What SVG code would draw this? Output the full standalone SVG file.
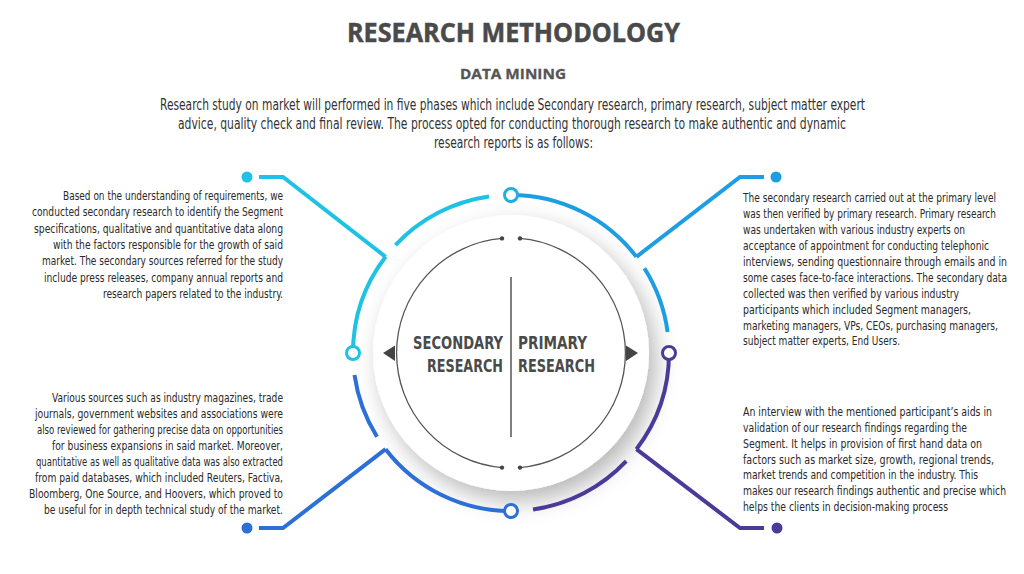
<svg xmlns="http://www.w3.org/2000/svg" width="1024" height="574" viewBox="0 0 1024 574">
<style>
.title{font-family:"Open Sans","Liberation Sans",sans-serif;font-weight:700;fill:#4a4a4a;stroke:#4a4a4a;stroke-width:0.5}
.body{font-family:"Liberation Sans Narrow","DejaVu Sans Condensed","Liberation Sans",sans-serif;fill:#2a2a2a}
.hp{font-size:16.5px;fill:#333}
.p{font-size:13px}
.ctr{font-family:"Liberation Sans Narrow","DejaVu Sans Condensed","Liberation Sans",sans-serif;font-size:18px;font-weight:700;fill:#4a4a4a}
.arc{fill:none;stroke-width:4;stroke-linecap:butt}
.con{fill:none;stroke-width:4;stroke-linejoin:miter}
.node{fill:#fff;stroke-width:3}
.cy{stroke:#1dc2e4}.bl{stroke:#1e9ee2}.rb{stroke:#2c6fd6}.pu{stroke:#4b3a98}
.thin{fill:none;stroke:#555;stroke-width:1.3}
</style>
<defs>
<filter id="sh" x="-30%" y="-30%" width="170%" height="170%">
<feDropShadow dx="7" dy="10" stdDeviation="11" flood-color="#000" flood-opacity="0.28"/>
</filter>
</defs>
<rect width="1024" height="574" fill="#fff"/>

<g id="header">
<text class="title" x="513.5" y="42" font-size="26" text-anchor="middle" textLength="333" lengthAdjust="spacingAndGlyphs">RESEARCH METHODOLOGY</text>
<text class="title" x="513" y="79" font-size="15" text-anchor="middle" style="fill:#555;stroke:#555;stroke-width:0.3" textLength="106" lengthAdjust="spacingAndGlyphs">DATA MINING</text>
<g class="body hp" text-anchor="middle">
<text x="512.5" y="110" textLength="705" lengthAdjust="spacingAndGlyphs">Research study on market will performed in five phases which include Secondary research, primary research, subject matter expert</text>
<text x="512" y="129" textLength="668" lengthAdjust="spacingAndGlyphs">advice, quality check and final review. The process opted for conducting thorough research to make authentic and dynamic</text>
<text x="513.5" y="148" textLength="159" lengthAdjust="spacingAndGlyphs">research reports is as follows:</text>
</g>
</g>

<g id="center">
<circle cx="511" cy="353" r="138" fill="#fff" filter="url(#sh)"/>
<path class="thin" d="M520,238.4 A115,115 0 0 1 520,467.6"/>
<path class="thin" d="M502,467.6 A115,115 0 0 1 502,238.4"/>
<g fill="#444">
<circle cx="520" cy="238.4" r="2.2"/><circle cx="502" cy="238.4" r="2.2"/>
<circle cx="520" cy="467.6" r="2.2"/><circle cx="502" cy="467.6" r="2.2"/>
<polygon points="383,353 395,345.5 395,361"/>
<polygon points="638,353 626,345.5 626,361"/>
</g>
<line x1="511" y1="277" x2="511" y2="437" stroke="#555" stroke-width="1.5"/>
<g class="ctr">
<text x="503" y="349" text-anchor="end" textLength="90" lengthAdjust="spacingAndGlyphs">SECONDARY</text>
<text x="503" y="372" text-anchor="end" textLength="76" lengthAdjust="spacingAndGlyphs">RESEARCH</text>
<text x="518" y="349" textLength="69" lengthAdjust="spacingAndGlyphs">PRIMARY</text>
<text x="518" y="372" textLength="77" lengthAdjust="spacingAndGlyphs">RESEARCH</text>
</g>
</g>

<g id="connectors">
<path class="arc cy" d="M353,353 A158,158 0 0 1 385.6,256.8"/>
<path class="arc cy" d="M395.4,245.2 A158,158 0 0 1 489,196.5"/>
<path class="arc bl" d="M511,195 A158,158 0 0 1 636.4,256.8"/>
<path class="arc bl" d="M644.4,268.3 A158,158 0 0 1 667.6,332.1"/>
<path class="arc pu" d="M669,353 A158,158 0 0 1 636.4,449.2"/>
<path class="arc pu" d="M626.2,461.2 A158,158 0 0 1 533,509.5"/>
<path class="arc rb" d="M511,511 A158,158 0 0 1 385.6,449.2"/>
<path class="arc rb" d="M377,436.7 A158,158 0 0 1 354.5,375"/>
<path class="con cy" d="M385.6,256.8 L283,177 L259,177"/>
<path class="con bl" d="M636.4,256.8 L740,177 L764,177"/>
<path class="con rb" d="M385.6,449.2 L283,528 L259,528"/>
<path class="con pu" d="M636.4,449.2 L740,528 L764,528"/>
</g>

<g id="node-left"><circle class="node cy" cx="353" cy="353" r="6.5"/></g>
<g id="node-top"><circle class="node" stroke="#1cb0e4" cx="511" cy="195" r="6.5"/></g>
<g id="node-right"><circle class="node pu" cx="669" cy="353" r="6.5"/></g>
<g id="node-bottom"><circle class="node rb" cx="511" cy="511" r="6.5"/></g>

<g id="dot-tl"><circle cx="247" cy="177" r="5.5" fill="#1dc2e4"/></g>
<g id="dot-tr"><circle cx="776" cy="177" r="5.5" fill="#1e9ee2"/></g>
<g id="dot-bl"><circle cx="247" cy="528" r="5.5" fill="#2c6fd6"/></g>
<g id="dot-br"><circle cx="777" cy="528" r="5.5" fill="#4b3a98"/></g>

<g id="text-tl" class="body p" text-anchor="end">
<text x="283" y="200" textLength="220" lengthAdjust="spacingAndGlyphs">Based on the understanding of requirements, we</text>
<text x="283" y="216.3" textLength="251" lengthAdjust="spacingAndGlyphs">conducted secondary research to identify the Segment</text>
<text x="283" y="232.6" textLength="249" lengthAdjust="spacingAndGlyphs">specifications, qualitative and quantitative data along</text>
<text x="283" y="248.9" textLength="230" lengthAdjust="spacingAndGlyphs">with the factors responsible for the growth of said</text>
<text x="283" y="265.2" textLength="241" lengthAdjust="spacingAndGlyphs">market. The secondary sources referred for the study</text>
<text x="283" y="281.5" textLength="239" lengthAdjust="spacingAndGlyphs">include press releases, company annual reports and</text>
<text x="283" y="297.8" textLength="180" lengthAdjust="spacingAndGlyphs">research papers related to the industry.</text>
</g>

<g id="text-bl" class="body p" text-anchor="end">
<text x="283" y="402" textLength="231" lengthAdjust="spacingAndGlyphs">Various sources such as industry magazines, trade</text>
<text x="283" y="418" textLength="248" lengthAdjust="spacingAndGlyphs">journals, government websites and associations were</text>
<text x="283" y="434" textLength="246" lengthAdjust="spacingAndGlyphs">also reviewed for gathering precise data on opportunities</text>
<text x="283" y="450" textLength="231" lengthAdjust="spacingAndGlyphs">for business expansions in said market. Moreover,</text>
<text x="283" y="466" textLength="247" lengthAdjust="spacingAndGlyphs">quantitative as well as qualitative data was also extracted</text>
<text x="283" y="482" textLength="248" lengthAdjust="spacingAndGlyphs">from paid databases, which included Reuters, Factiva,</text>
<text x="283" y="498" textLength="254" lengthAdjust="spacingAndGlyphs">Bloomberg, One Source, and Hoovers, which proved to</text>
<text x="283" y="514" textLength="239" lengthAdjust="spacingAndGlyphs">be useful for in depth technical study of the market.</text>
</g>

<g id="text-tr" class="body p">
<text x="743" y="202" textLength="253" lengthAdjust="spacingAndGlyphs">The secondary research carried out at the primary level</text>
<text x="743" y="218" textLength="253" lengthAdjust="spacingAndGlyphs">was then verified by primary research. Primary research</text>
<text x="743" y="234" textLength="222" lengthAdjust="spacingAndGlyphs">was undertaken with various industry experts on</text>
<text x="743" y="250" textLength="246" lengthAdjust="spacingAndGlyphs">acceptance of appointment for conducting telephonic</text>
<text x="743" y="266" textLength="264" lengthAdjust="spacingAndGlyphs">interviews, sending questionnaire through emails and in</text>
<text x="743" y="281.5" textLength="264" lengthAdjust="spacingAndGlyphs">some cases face-to-face interactions. The secondary data</text>
<text x="743" y="297.5" textLength="216" lengthAdjust="spacingAndGlyphs">collected was then verified by various industry</text>
<text x="743" y="313.5" textLength="228" lengthAdjust="spacingAndGlyphs">participants which included Segment managers,</text>
<text x="743" y="329.5" textLength="255" lengthAdjust="spacingAndGlyphs">marketing managers, VPs, CEOs, purchasing managers,</text>
<text x="743" y="345" textLength="157" lengthAdjust="spacingAndGlyphs">subject matter experts, End Users.</text>
</g>

<g id="text-br" class="body p">
<text x="743" y="416" textLength="249" lengthAdjust="spacingAndGlyphs">An interview with the mentioned participant’s aids in</text>
<text x="743" y="432" textLength="224" lengthAdjust="spacingAndGlyphs">validation of our research findings regarding the</text>
<text x="743" y="447.5" textLength="239" lengthAdjust="spacingAndGlyphs">Segment. It helps in provision of first hand data on</text>
<text x="743" y="463.5" textLength="251" lengthAdjust="spacingAndGlyphs">factors such as market size, growth, regional trends,</text>
<text x="743" y="479" textLength="235" lengthAdjust="spacingAndGlyphs">market trends and competition in the industry. This</text>
<text x="743" y="495" textLength="263" lengthAdjust="spacingAndGlyphs">makes our research findings authentic and precise which</text>
<text x="743" y="510.5" textLength="205" lengthAdjust="spacingAndGlyphs">helps the clients in decision-making process</text>
</g>
</svg>
